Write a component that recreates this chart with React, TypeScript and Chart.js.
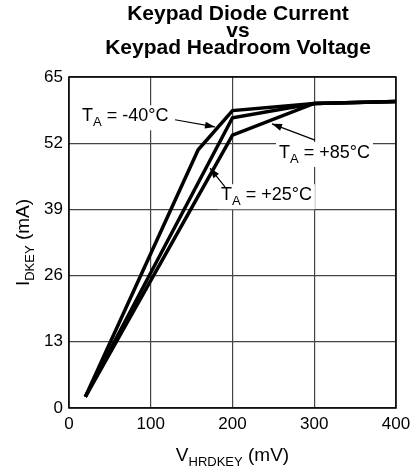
import React, { useEffect, useRef } from "react";
import { Chart, registerables } from "chart.js";

Chart.register(...registerables);

// Data (V_HRDKEY in mV, I_DKEY in mA)
const vM40 = [20, 158, 200, 300, 400];
const iM40 = [2.2, 50.7, 58.4, 59.8, 60.2];
const vP25 = [20, 200, 300, 400];
const iP25 = [2.2, 57.0, 59.8, 60.2];
const vP85 = [20, 200, 300, 400];
const iP85 = [2.2, 53.6, 59.8, 60.2];

const xTicks = [0, 100, 200, 300, 400];
const yTicks = [0, 13, 26, 39, 52, 65];

const titleLines = ["Keypad Diode Current", "vs", "Keypad Headroom Voltage"];

// Annotations: label, text anchor (data), arrow from/to (data)
const annLabels = ["-40°C", "+85°C", "+25°C"];
const annTextX = [15.9, 256.9, 185.9];
const annTextY = [56.3, 49.1, 40.8];
const annArrowFromX = [129.7, 300.9, 190.8];
const annArrowFromY = [56.6, 52.6, 43.4];
const annArrowToX = [178.6, 248.3, 172.5];
const annArrowToY = [55.2, 55.8, 47.1];

const FONT = '"Liberation Sans", Arial, Helvetica, sans-serif';

function pts(xs: number[], ys: number[]) {
  return xs.map((x, i) => ({ x, y: ys[i] }));
}

function drawSubText(
  ctx: CanvasRenderingContext2D,
  x: number,
  y: number,
  main: string,
  sub: string,
  rest: string,
  size: number,
  subSize: number,
  subDrop: number
) {
  ctx.font = `${size}px ${FONT}`;
  ctx.fillText(main, x, y);
  let cx = x + ctx.measureText(main).width;
  ctx.font = `${subSize}px ${FONT}`;
  ctx.fillText(sub, cx, y + subDrop);
  cx += ctx.measureText(sub).width;
  ctx.font = `${size}px ${FONT}`;
  ctx.fillText(rest, cx, y);
  return cx + ctx.measureText(rest).width - x;
}

function measureSub(ctx: CanvasRenderingContext2D, main: string, sub: string, rest: string, size: number, subSize: number) {
  ctx.font = `${size}px ${FONT}`;
  let w = ctx.measureText(main).width + ctx.measureText(rest).width;
  ctx.font = `${subSize}px ${FONT}`;
  w += ctx.measureText(sub).width;
  return w;
}

const decorPlugin = {
  id: "decor",
  beforeDatasetsDraw(chart: any) {
    const { ctx, chartArea, scales } = chart;
    const xs = scales.x;
    const ys = scales.y;
    ctx.save();
    // white boxes behind annotation labels
    ctx.fillStyle = "#ffffff";
    for (let i = 0; i < annLabels.length; i++) {
      const px = xs.getPixelForValue(annTextX[i]);
      const py = ys.getPixelForValue(annTextY[i]);
      const w = measureSub(ctx, "T", "A", " = " + annLabels[i], 18, 13);
      ctx.fillRect(px - 3, py - 16, w + 6, 25);
    }
    // plot border
    ctx.strokeStyle = "#000";
    ctx.lineWidth = 1.5;
    ctx.strokeRect(chartArea.left, chartArea.top, chartArea.right - chartArea.left, chartArea.bottom - chartArea.top);
    ctx.restore();
  },
  afterDraw(chart: any) {
    const { ctx, chartArea, scales } = chart;
    const xs = scales.x;
    const ys = scales.y;
    ctx.save();
    ctx.fillStyle = "#000";
    ctx.strokeStyle = "#000";
    ctx.textBaseline = "alphabetic";
    // title
    ctx.textAlign = "center";
    ctx.font = `bold 21px ${FONT}`;
    const cx = 238;
    titleLines.forEach((t, i) => ctx.fillText(t, cx, 20 + i * 17));
    ctx.textAlign = "left";

    // x axis title
    const xw = measureSub(ctx, "V", "HRDKEY", " (mV)", 19, 13);
    const xmid = (chartArea.left + chartArea.right) / 2;
    drawSubText(ctx, xmid - xw / 2, 461, "V", "HRDKEY", " (mV)", 19, 13, 5);

    // y axis title
    const yw = measureSub(ctx, "I", "DKEY", " (mA)", 19, 13);
    const ymid = (chartArea.top + chartArea.bottom) / 2;
    ctx.translate(29, ymid);
    ctx.rotate(-Math.PI / 2);
    drawSubText(ctx, -yw / 2, 0, "I", "DKEY", " (mA)", 19, 13, 5);
    ctx.setTransform(1, 0, 0, 1, 0, 0);

    // annotations
    for (let i = 0; i < annLabels.length; i++) {
      const px = xs.getPixelForValue(annTextX[i]);
      const py = ys.getPixelForValue(annTextY[i]);
      drawSubText(ctx, px, py, "T", "A", " = " + annLabels[i], 18, 13, 5);
      const x1 = xs.getPixelForValue(annArrowFromX[i]);
      const y1 = ys.getPixelForValue(annArrowFromY[i]);
      const x2 = xs.getPixelForValue(annArrowToX[i]);
      const y2 = ys.getPixelForValue(annArrowToY[i]);
      ctx.lineWidth = 1.2;
      ctx.beginPath();
      ctx.moveTo(x1, y1);
      ctx.lineTo(x2, y2);
      ctx.stroke();
      const a = Math.atan2(y2 - y1, x2 - x1);
      const L = 10;
      const W = 3.5;
      ctx.beginPath();
      ctx.moveTo(x2, y2);
      ctx.lineTo(x2 - L * Math.cos(a) + W * Math.sin(a), y2 - L * Math.sin(a) - W * Math.cos(a));
      ctx.lineTo(x2 - L * Math.cos(a) - W * Math.sin(a), y2 - L * Math.sin(a) + W * Math.cos(a));
      ctx.closePath();
      ctx.fill();
    }
    ctx.restore();
  },
};

export default function App() {
  const ref = useRef<HTMLCanvasElement | null>(null);
  useEffect(() => {
    if (!ref.current) return;
    const lineStyle = {
      showLine: true,
      borderColor: "#000",
      backgroundColor: "#000",
      borderWidth: 3.5,
      pointRadius: 0,
      tension: 0,
      fill: false,
    };
    const chart = new Chart(ref.current, {
      type: "scatter",
      data: {
        datasets: [
          { label: "TA = -40°C", data: pts(vM40, iM40), ...lineStyle },
          { label: "TA = +25°C", data: pts(vP25, iP25), ...lineStyle },
          { label: "TA = +85°C", data: pts(vP85, iP85), ...lineStyle },
        ],
      },
      options: {
        responsive: false,
        animation: false,
        events: [],
        layout: { padding: { left: 0, top: 77, right: 16, bottom: 0 } },
        plugins: {
          legend: { display: false },
          title: { display: false },
          tooltip: { enabled: false },
        },
        scales: {
          x: {
            type: "linear",
            min: 0,
            max: 400,
            afterBuildTicks: (s: any) => {
              s.ticks = xTicks.map((v) => ({ value: v }));
            },
            afterFit: (s: any) => {
              s.height = 61;
              s.paddingLeft = 0;
              s.paddingRight = 0;
            },
            ticks: {
              color: "#000",
              font: { family: FONT, size: 17 },
              padding: 6,
              maxRotation: 0,
            },
            grid: { color: "#444", lineWidth: 1.2, drawTicks: false },
            border: { display: false },
          },
          y: {
            type: "linear",
            min: 0,
            max: 65,
            afterBuildTicks: (s: any) => {
              s.ticks = yTicks.map((v) => ({ value: v }));
            },
            afterFit: (s: any) => {
              s.width = 69;
              s.paddingTop = 0;
              s.paddingBottom = 0;
            },
            ticks: {
              color: "#000",
              font: { family: FONT, size: 17 },
              padding: 6,
            },
            grid: { color: "#444", lineWidth: 1.2, drawTicks: false },
            border: { display: false },
          },
        },
      },
      plugins: [decorPlugin],
    });
    return () => chart.destroy();
  }, []);
  return (
    <div style={{ position: "fixed", left: 0, top: 0, width: 412, height: 469, background: "#fff" }}>
      <canvas ref={ref} width={412} height={469} style={{ display: "block" }} />
    </div>
  );
}
